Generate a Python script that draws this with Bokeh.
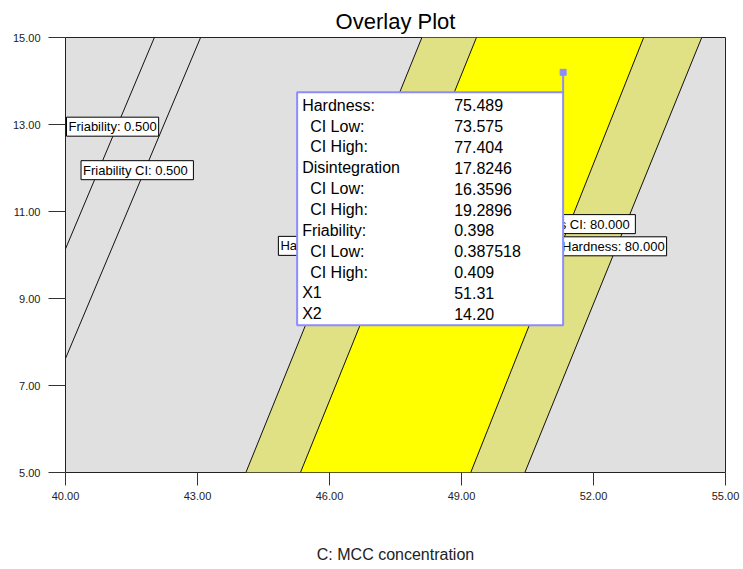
from bokeh.plotting import figure
from bokeh.models import Range1d, FixedTicker, Label, BoxAnnotation, NumeralTickFormatter
from bokeh.embed import file_html
from bokeh.resources import INLINE

# ---------------- data ----------------
y_span = [5.0, 15.0]                 # factor X2 range (bottom, top)
hard_lo_mean_x = [44.10, 48.10]      # Hardness: 70 contour (outer left)
hard_lo_ci_x = [45.34, 49.34]        # Hardness CI: 70 contour (inner left)
hard_hi_ci_x = [49.21, 53.14]        # Hardness CI: 80 contour (inner right)
hard_hi_mean_x = [50.44, 54.46]      # Hardness: 80 contour (outer right)

fri_mean_x = [40.0, 42.02]           # Friability: 0.500
fri_mean_y = [10.14, 15.0]
fri_ci_x = [40.0, 43.07]             # Friability CI: 0.500
fri_ci_y = [7.62, 15.0]

x_ticks = [40, 43, 46, 49, 52, 55]
y_ticks = [5, 7, 9, 11, 13, 15]

flag_x, flag_y = 51.31, 14.20
flag_names = ["Hardness:", "CI Low:", "CI High:", "Disintegration", "CI Low:", "CI High:",
              "Friability:", "CI Low:", "CI High:", "X1", "X2"]
flag_indent = [False, True, True, False, True, True, False, True, True, False, False]
flag_values = ["75.489", "73.575", "77.404", "17.8246", "16.3596", "19.2896",
               "0.398", "0.387518", "0.409", "51.31", "14.20"]

contour_labels = ["Friability: 0.500", "Friability CI:  0.500", "Hardness: 70.000",
                  "Hardness CI:  80.000", "Hardness: 80.000"]
contour_label_x = [41.07, 41.63, 46.05, 51.51, 52.45]
contour_label_y = [12.95, 11.95, 10.21, 10.71, 10.20]

# ---------------- colours ----------------
GRAY = "#E0E0E0"
KHAKI = "#E0E084"
YELLOW = "#FFFF00"
FLAG = "#8C8CFF"
FONT = "Liberation Sans"

FW, FH = 660, 435
ux = (x_ticks[-1] - x_ticks[0]) / FW
uy = (y_ticks[-1] - y_ticks[0]) / FH

p = figure(width=743, height=569, output_backend="svg", toolbar_location=None,
           x_range=Range1d(40, 55), y_range=Range1d(5, 15),
           min_border_left=65, min_border_right=18, min_border_top=37, min_border_bottom=97,
           title="Overlay Plot")
p.background_fill_color = GRAY
p.border_fill_color = "white"
p.outline_line_color = "#222222"
p.outline_line_width = 1
p.grid.visible = False

p.title.text_font = FONT
p.title.text_font_size = "22px"
p.title.text_font_style = "normal"
p.title.align = "center"
p.title.text_color = "black"
p.title.standoff = 8

# bands
p.patch(hard_lo_mean_x + hard_lo_ci_x[::-1], y_span + y_span[::-1], fill_color=KHAKI, line_color=None)
p.patch(hard_lo_ci_x + hard_hi_ci_x[::-1], y_span + y_span[::-1], fill_color=YELLOW, line_color=None)
p.patch(hard_hi_ci_x + hard_hi_mean_x[::-1], y_span + y_span[::-1], fill_color=KHAKI, line_color=None)

for xs in (hard_lo_mean_x, hard_lo_ci_x, hard_hi_ci_x, hard_hi_mean_x):
    p.line(xs, y_span, line_color="#111111", line_width=1)
p.line(fri_mean_x, fri_mean_y, line_color="#111111", line_width=1)
p.line(fri_ci_x, fri_ci_y, line_color="#111111", line_width=1)

# axes
for ax, ticks, tout, stand in ((p.xaxis[0], x_ticks, 13, 6), (p.yaxis[0], y_ticks, 17, 8)):
    ax.ticker = FixedTicker(ticks=ticks)
    ax.formatter = NumeralTickFormatter(format="0.00")
    ax.major_tick_out = tout
    ax.major_tick_in = 0
    ax.minor_tick_out = 0
    ax.minor_tick_in = 0
    ax.axis_line_color = None
    ax.major_tick_line_color = "#333333"
    ax.major_label_text_font = FONT
    ax.major_label_text_font_size = "11px"
    ax.major_label_text_color = "#222222"
    ax.major_label_standoff = stand

p.xaxis.axis_label = "C: MCC concentration"
p.xaxis.axis_label_text_font = FONT
p.xaxis.axis_label_text_font_size = "16px"
p.xaxis.axis_label_text_font_style = "normal"
p.xaxis.axis_label_text_color = "#222222"
p.xaxis.axis_label_standoff = 43

# contour labels
for t, lx, ly in zip(contour_labels, contour_label_x, contour_label_y):
    p.add_layout(Label(x=lx, y=ly, text=t, text_align="center", text_baseline="middle",
                       text_font=FONT, text_font_size="13px", text_color="black",
                       background_fill_color="white", border_line_color="black",
                       border_line_width=1, padding=2))

# flag box
box_left = flag_x - 266 * ux
box_top = flag_y - 20 * uy
box_bottom = flag_y - 253 * uy
p.add_layout(BoxAnnotation(left=box_left, right=flag_x, top=box_top, bottom=box_bottom,
                           fill_color="white", fill_alpha=1.0, line_color=FLAG, line_width=2,
                           line_alpha=1.0))
p.segment([flag_x], [box_top], [flag_x], [flag_y], line_color=FLAG, line_width=2)
p.scatter([flag_x], [flag_y], marker="square", size=6, color=FLAG)

for i, (name, ind, val) in enumerate(zip(flag_names, flag_indent, flag_values)):
    ry = box_top - (13 + i * 20.84) * uy
    nx = box_left + (13 if ind else 5) * ux
    p.add_layout(Label(x=nx, y=ry, text=name, text_align="left", text_baseline="middle",
                       text_font=FONT, text_font_size="16px", text_color="black"))
    p.add_layout(Label(x=box_left + 157 * ux, y=ry, text=val, text_align="left",
                       text_baseline="middle", text_font=FONT, text_font_size="16px",
                       text_color="black"))

open("out.html", "w").write(file_html(p, INLINE))
